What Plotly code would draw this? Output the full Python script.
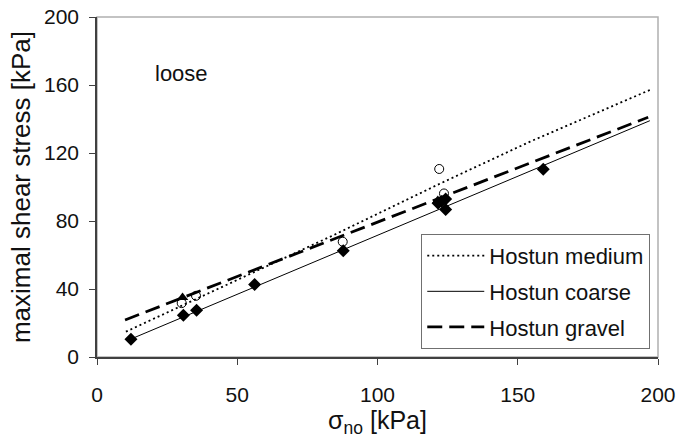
import plotly.graph_objects as go

# measured points, loose state
medium_x = [30.2, 35.3, 87.6, 122.0, 123.7]
medium_y = [31.7, 36.0, 67.8, 110.6, 96.2]

coarse_x = [12.1, 30.8, 35.5, 56.2, 87.8, 121.6, 122.8, 124.3, 124.3, 159.1]
coarse_y = [10.5, 24.5, 27.5, 42.6, 62.5, 90.5, 91.4, 93.0, 86.8, 110.4]

gravel_x = [30.5, 121.5]
gravel_y = [35.0, 92.0]

# fitted lines
medium_fit_x = [10.3, 84.1, 122.3, 154.4, 197.7]
medium_fit_y = [14.9, 71.5, 102.0, 126.7, 157.5]
coarse_fit_x = [12.0, 197.1]
coarse_fit_y = [10.5, 139.0]
gravel_fit_x = [10.0, 196.5]
gravel_fit_y = [21.8, 141.0]

FONT = "Liberation Sans, Arial, sans-serif"
TXT = "#111111"

fig = go.Figure()

fig.add_trace(go.Scatter(x=medium_fit_x, y=medium_fit_y, mode="lines", name="Hostun medium",
                         line=dict(color="black", width=1.8, dash="2px,3px"), legendgroup="a"))
fig.add_trace(go.Scatter(x=coarse_fit_x, y=coarse_fit_y, mode="lines", name="Hostun coarse",
                         line=dict(color="black", width=1), legendgroup="b"))
fig.add_trace(go.Scatter(x=gravel_fit_x, y=gravel_fit_y, mode="lines", name="Hostun gravel",
                         line=dict(color="black", width=2.8, dash="15px,7px"), legendgroup="c"))

fig.add_trace(go.Scatter(x=coarse_x, y=coarse_y, mode="markers", showlegend=False,
                         marker=dict(symbol="diamond", size=10, color="black")))
fig.add_trace(go.Scatter(x=gravel_x, y=gravel_y, mode="markers", showlegend=False,
                         marker=dict(symbol="triangle-up", size=10, color="black")))
fig.add_trace(go.Scatter(x=medium_x, y=medium_y, mode="markers", showlegend=False,
                         marker=dict(symbol="circle-open", size=9, color="black",
                                     line=dict(width=1))))

fig.add_annotation(x=20, y=167, text="loose", showarrow=False, xanchor="left",
                   font=dict(size=22, color=TXT, family=FONT))

# light frame on top / right
fig.add_shape(type="rect", xref="paper", yref="paper", x0=0, y0=0, x1=1, y1=1,
              line=dict(color="#b0b0b0", width=1.5), layer="below")

axis_common = dict(showgrid=False, zeroline=False, showline=True, linecolor="#404040",
                   linewidth=1.5, ticks="outside", ticklen=6, tickcolor="#404040",
                   automargin=False, ticklabeloverflow="allow",
                   tickfont=dict(size=21, color=TXT, family=FONT))

fig.update_xaxes(range=[0, 200], tickvals=[0, 50, 100, 150, 200], ticklabelstandoff=12,
                 **axis_common,
                 title=dict(text="σ<sub>no</sub> [kPa]", font=dict(size=25, color=TXT, family=FONT),
                            standoff=6))
fig.update_yaxes(range=[0, 200], tickvals=[0, 40, 80, 120, 160, 200], ticklabelstandoff=6,
                 **axis_common,
                 title=dict(text="maximal shear stress [kPa]", font=dict(size=26, color=TXT, family=FONT),
                            standoff=6))

fig.update_layout(
    width=680, height=443,
    margin=dict(l=97, r=22, t=17, b=86),
    plot_bgcolor="white", paper_bgcolor="white",
    showlegend=True,
    legend=dict(x=0.578, y=0.362, xanchor="left", yanchor="top",
                bordercolor="#707070", borderwidth=1, bgcolor="white",
                font=dict(size=22, color=TXT, family=FONT),
                tracegroupgap=4, itemwidth=57, traceorder="grouped"),
)

# drop the default 8px body margin so the figure fills the window
fig.write_html("out.html", config={"displayModeBar": False},
               post_script="document.body.style.margin='0';")
